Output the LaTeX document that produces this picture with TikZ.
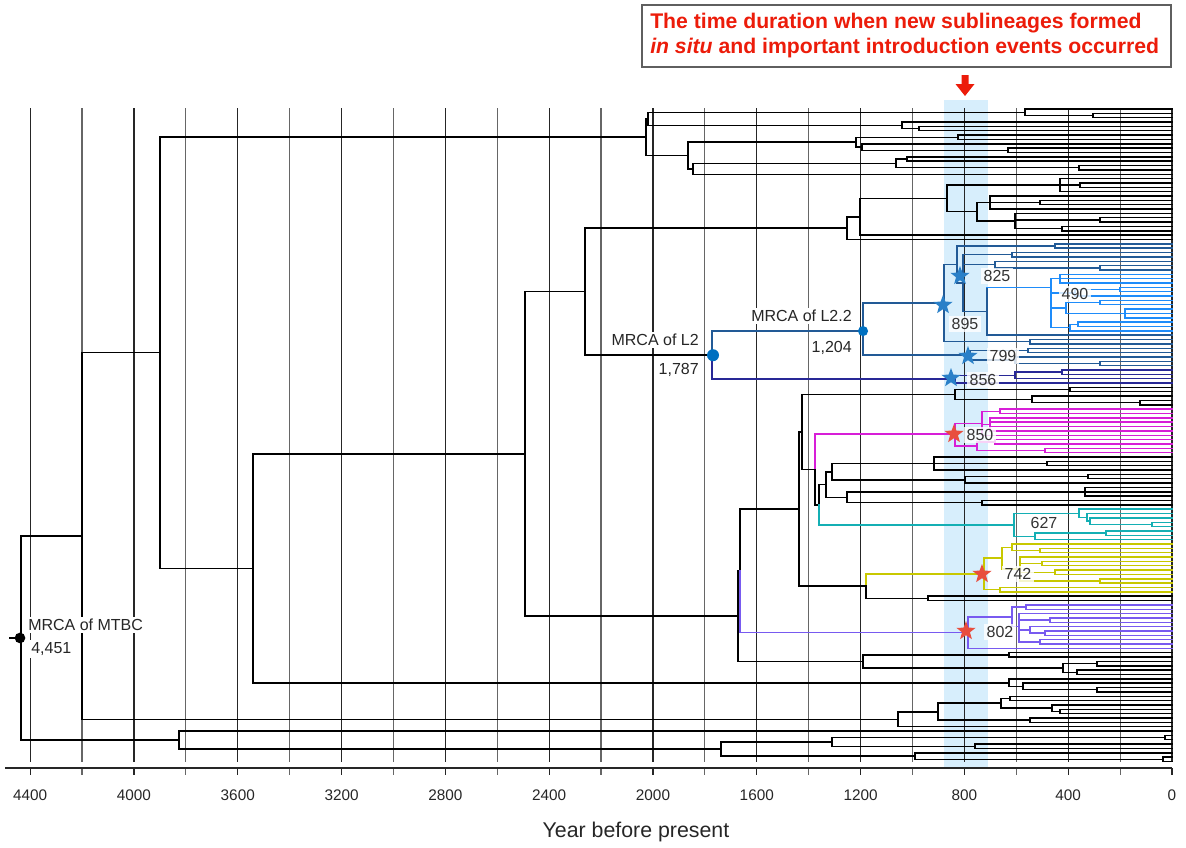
\documentclass[tikz,border=0pt]{standalone}
\usepackage{fontspec}
\setmainfont{Liberation Sans}
\usetikzlibrary{shapes.geometric}
\definecolor{stb}{RGB}{34,90,150}
\definecolor{lbl}{RGB}{30,140,250}
\definecolor{ind}{RGB}{40,40,150}
\definecolor{mag}{RGB}{215,30,215}
\definecolor{cya}{RGB}{20,175,180}
\definecolor{yel}{RGB}{200,200,0}
\definecolor{pur}{RGB}{120,90,240}
\definecolor{bandc}{RGB}{215,238,252}
\definecolor{starb}{RGB}{42,128,200}
\definecolor{starr}{RGB}{232,78,62}
\definecolor{dotb}{RGB}{0,112,192}
\definecolor{redt}{RGB}{236,28,10}
\definecolor{boxg}{RGB}{95,95,95}
\newcommand\ky[1]{(109+4.35*(#1))}
\def\TIP{1172}
\newcommand\Nd[3][]{\foreach \kk/\xx [count=\ii, remember=\kk as \pk] in {#3}{%
  \draw[tr,#1] (#2,{\ky{\kk}}) -- (\xx,{\ky{\kk}});
  \ifnum\ii>1 \draw[tr,#1] (#2,{\ky{\pk}}) -- (#2,{\ky{\kk}});\fi}}
\tikzset{
  tr/.style={line width=1.1pt, line cap=rect},
  gmaj/.style={black!85, line width=0.9pt},
  gmin/.style={black!60, line width=0.9pt},
  bstar/.style={star, star points=5, star point ratio=2.4, fill=starb, draw=none, minimum size=15pt, inner sep=0pt},
  rstar/.style={bstar, fill=starr},
  slab/.style={fill=white, fill opacity=0.8, text opacity=1, text=black!80, inner sep=2pt, font=\fontsize{12}{14}\selectfont},
  mlab/.style={fill=white, inner sep=1.5pt, text=black!85, font=\fontsize{12}{14}\selectfont},
  axl/.style={font=\fontsize{11.5}{13}\selectfont, text=black!85},
}
\begin{document}
\begin{tikzpicture}[x=0.75pt,y=-0.75pt]
\useasboundingbox (0,0) rectangle (1186,847);
% highlight band
\fill[bandc] (944,100) rectangle (988,768);
% grid
\foreach \yr in {0,400,...,4400}{
  \pgfmathsetmacro\gx{1172-0.2595*\yr}
  \draw[gmaj] (\gx,108) -- (\gx,762);
  \draw[gmaj] (\gx,768) -- (\gx,775);
  \node[axl] (ax\yr) at (\gx,795) {\yr};
}
\foreach \yr in {200,600,...,4200}{
  \pgfmathsetmacro\gx{1172-0.2595*\yr}
  \draw[gmin] (\gx,108) -- (\gx,762);
  \draw[gmin] (\gx,768) -- (\gx,775);
}
\draw[black!85, line width=0.9pt] (5,768) -- (1172,768);
\node[font=\fontsize{16}{18}\selectfont, text=black!85] (xt) at (636,832) {Year before present};
% title box
\draw[boxg, line width=2.2pt, fill=white] (642,5) rectangle (1171,67);
\node[anchor=west, text=redt, font=\bfseries\fontsize{15.9}{18}\selectfont, inner sep=0pt] (t1) at (650,23) {The time duration when new sublineages formed};
\node[anchor=west, text=redt, font=\bfseries\fontsize{15.9}{18}\selectfont, inner sep=0pt] (t2) at (650,48) {\textit{in situ} and important introduction events occurred};
\fill[redt] (961.5,75) -- (968.5,75) -- (968.5,84) -- (974.5,84) -- (965,96) -- (955.5,84) -- (961.5,84) -- cycle;
% ---------- backbone
\draw[tr] (10,{\ky{121.6}}) -- (21,{\ky{121.6}});
\Nd{21}{98.15/82, 145.06/179}
\Nd{82}{56/160, 140.3/898}
\Nd{160}{6.47/646, 105.6/253}
\Nd{253}{79.3/525, 131.9/1009}
\Nd{525}{42/585, 116.6/738}
\Nd{585}{27.4/847, 56.6/712}
\Nd{738}{106.2/740, 127/863}
\draw[tr] (740,{\ky{106.2}}) -- (740,{\ky{92}}) -- (799,{\ky{92}});
\draw[tr,pur] (740,{\ky{106.2}}) -- (740,{\ky{120.4}}) -- (968,{\ky{120.4}});
\Nd{799}{74.25/802, 109.7/866}
\Nd{802}{65.6/955, 82.9/815}
\draw[tr,mag] (815,{\ky{82.9}}) -- (815,{\ky{74.75}}) -- (955,{\ky{74.75}});
\draw[tr] (815,{\ky{82.9}}) -- (815,{\ky{91}}) -- (819,{\ky{91}});
\draw[tr] (819,{\ky{91}}) -- (819,{\ky{86.3}}) -- (826,{\ky{86.3}});
\draw[tr,cya] (819,{\ky{91}}) -- (819,{\ky{95.6}}) -- (1014,{\ky{95.6}});
\Nd{826}{83.4/832, 89.25/847}
\Nd{832}{81.5/934, 85.25/965}
\Nd{934}{80/\TIP, 81.5/1047, 83/\TIP}
\Nd{1047}{81/\TIP, 82/\TIP}
\Nd{965}{84.5/1088, 86/\TIP}
\Nd{1088}{84/\TIP, 85/\TIP}
\Nd{847}{88/1085, 90.5/982}
\Nd{1085}{87/\TIP, 88/\TIP, 89/\TIP}
\Nd{982}{90/\TIP, 91/\TIP}
\draw[tr,yel] (866,{\ky{109.7}}) -- (866,{\ky{106.9}}) -- (984,{\ky{106.9}});
\draw[tr] (866,{\ky{109.7}}) -- (866,{\ky{112.5}}) -- (928,{\ky{112.5}});
\Nd{928}{112/\TIP, 113/\TIP}
% R5
\Nd{955}{64.5/1070, 66.75/1032}
\Nd{1070}{64/\TIP, 65/\TIP}
\Nd{1032}{66/\TIP, 67.5/1140}
\Nd{1140}{67/\TIP, 68/\TIP}
% magenta
\Nd[mag]{955}{72.25/982, 77.5/977}
\Nd[mag]{982}{69.5/1000, 72.5/990, 75/\TIP}
\Nd[mag]{1000}{69/\TIP, 70/\TIP}
\Nd[mag]{990}{71/\TIP, 72/\TIP, 73/\TIP, 74/\TIP}
\Nd[mag]{977}{76.5/995, 78.5/1045}
\Nd[mag]{995}{76/\TIP, 77/\TIP}
\Nd[mag]{1045}{78/\TIP, 79/\TIP}
% cyan
\Nd[cya]{1014}{92.95/1079, 98.25/1035}
\Nd[cya]{1079}{92/\TIP, 93.9/1087}
\Nd[cya]{1087}{93/\TIP, 94.75/1090}
\Nd[cya]{1090}{94/\TIP, 95.5/1152}
\Nd[cya]{1152}{95/\TIP, 96/\TIP}
\Nd[cya]{1035}{97.5/1106, 99/\TIP}
\Nd[cya]{1106}{97/\TIP, 98/\TIP}
% yellow
\Nd[yel]{984}{103.25/1002, 110.5/1000}
\Nd[yel]{1000}{110/\TIP, 111/\TIP}
\Nd[yel]{1002}{100.75/1012, 105.75/1020}
\Nd[yel]{1012}{100/\TIP, 101.5/1040}
\Nd[yel]{1040}{101/\TIP, 102/\TIP}
\Nd[yel]{1020}{103/\TIP, 104.5/1042, 106.5/1055, 108.5/1100}
\Nd[yel]{1042}{104/\TIP, 105/\TIP}
\Nd[yel]{1055}{106/\TIP, 107/\TIP}
\Nd[yel]{1100}{108/\TIP, 109/\TIP}
% purple
\Nd[pur]{968}{116.75/1012, 124/\TIP}
\Nd[pur]{1012}{114.5/1026, 119/1019}
\Nd[pur]{1026}{114/\TIP, 115/\TIP}
\Nd[pur]{1019}{116/\TIP, 117.5/1050, 119.75/1030, 122.5/1040}
\Nd[pur]{1050}{117/\TIP, 118/\TIP}
\Nd[pur]{1030}{119/\TIP, 120.5/1045}
\Nd[pur]{1045}{120/\TIP, 121/\TIP}
\Nd[pur]{1040}{122/\TIP, 123/\TIP}
% black after purple
\Nd{863}{125.5/1009, 128.5/1063}
\Nd{1009}{125/\TIP, 126/\TIP}
\Nd{1063}{127.5/1097, 129.5/1077}
\Nd{1097}{127/\TIP, 128/\TIP}
\Nd{1077}{129/\TIP, 130/\TIP}
\Nd{1009}{131/\TIP, 132.75/1023}
\Nd{1023}{132/\TIP, 133.5/1097}
\Nd{1097}{133/\TIP, 134/\TIP}
% 898 group
\Nd{898}{138.6/938, 142/\TIP}
\Nd{938}{136.6/1001, 140.5/1030}
\Nd{1001}{135.5/1010, 137.75/1052}
\Nd{1010}{135/\TIP, 136/\TIP}
\Nd{1052}{137/\TIP, 138.5/1060}
\Nd{1060}{138/\TIP, 139/\TIP}
\Nd{1030}{140/\TIP, 141/\TIP}
% bottom group
\Nd{179}{143/\TIP, 147.1/721}
\Nd{721}{145.5/832, 148.75/915}
\Nd{832}{144.5/1165, 146.5/975}
\Nd{1165}{144/\TIP, 145/\TIP}
\Nd{975}{146/\TIP, 147/\TIP}
\Nd{915}{148/\TIP, 149.5/1163}
\Nd{1163}{149/\TIP, 150/\TIP}
% top clade
\Nd{646}{2.25/648, 10.69/688}
\Nd{648}{0.75/1025, 3.75/902}
\Nd{1025}{0/\TIP, 1.5/1093}
\Nd{1093}{1/\TIP, 2/\TIP}
\Nd{902}{3/\TIP, 4.5/919}
\Nd{919}{4/\TIP, 5/\TIP}
\Nd{688}{7.625/856, 13.75/693}
\Nd{856}{6.5/958, 8.75/862}
\Nd{958}{6/\TIP, 7/\TIP}
\Nd{862}{8/\TIP, 9.5/1008}
\Nd{1008}{9/\TIP, 10/\TIP}
\Nd{693}{12.5/896, 15/\TIP}
\Nd{896}{11.5/907, 13.5/1079}
\Nd{907}{11/\TIP, 12/\TIP}
\Nd{1079}{13/\TIP, 14/\TIP}
% second clade
\Nd{847}{24.8/860, 30/\TIP}
\Nd{860}{20.55/947, 29/\TIP}
\Nd{947}{17.5/1060, 23.6/977}
\Nd{1060}{16/\TIP, 17.5/1080, 19/\TIP}
\Nd{1080}{17/\TIP, 18/\TIP}
\Nd{977}{21.5/990, 25.75/1015}
\Nd{990}{20/\TIP, 21.5/1040, 23/\TIP}
\Nd{1040}{21/\TIP, 22/\TIP}
\Nd{1015}{24/\TIP, 25.5/1100, 27.5/1062}
\Nd{1100}{25/\TIP, 26/\TIP}
\Nd{1062}{27/\TIP, 28/\TIP}
% L2
\draw[tr,stb] (712,{\ky{56.6}}) -- (712,{\ky{51.05}}) -- (863,{\ky{51.05}});
\draw[tr,ind] (712,{\ky{56.6}}) -- (712,{\ky{62.1}}) -- (955,{\ky{62.1}});
\Nd[ind]{955}{61.25/1015, 63/\TIP}
\Nd[ind]{1015}{60.5/1062, 62/\TIP}
\Nd[ind]{1062}{60/\TIP, 61/\TIP}
% L2.2
\Nd[stb]{863}{44.6/944, 56.6/970}
\Nd[stb]{944}{35.75/957, 53.5/1030}
\Nd[stb]{1030}{53/\TIP, 54/\TIP}
\Nd[stb]{957}{31.5/1055, 40/963}
\Nd[stb]{1055}{31/\TIP, 32/\TIP}
\Nd[stb]{963}{33.5/1012, 35.75/995, 46.5/987}
\Nd[stb]{1012}{33/\TIP, 34/\TIP}
\Nd[stb]{995}{35/\TIP, 36.5/1100}
\Nd[stb]{1100}{36/\TIP, 37/\TIP}
\draw[tr,stb] (987,{\ky{41}}) -- (987,{\ky{52}}) -- (\TIP,{\ky{52}});
\draw[tr,lbl] (987,{\ky{41}}) -- (1051,{\ky{41}});
\Nd[lbl]{1051}{39/1060, 42.25/1075, 45.75/1066, 50.25/1070}
\Nd[lbl]{1060}{38/\TIP, 39/\TIP, 40/\TIP}
\Nd[lbl]{1075}{41.5/1120, 43/\TIP}
\Nd[lbl]{1120}{41/\TIP, 42/\TIP}
\Nd[lbl]{1066}{44.5/1100, 47/1125}
\Nd[lbl]{1100}{44/\TIP, 45/\TIP}
\Nd[lbl]{1125}{46/\TIP, 47/\TIP, 48/\TIP}
\Nd[lbl]{1070}{49.5/1078, 51/\TIP}
\Nd[lbl]{1078}{49/\TIP, 50/\TIP}
\Nd[stb]{970}{55.5/1028, 57.75/1015}
\Nd[stb]{1028}{55/\TIP, 56/\TIP}
\Nd[stb]{1015}{57/\TIP, 58.5/1100}
\Nd[stb]{1100}{58/\TIP, 59/\TIP}
% ---------- MRCA dots and labels
\node[mlab, anchor=west] (mtbc) at (26,625) {MRCA of MTBC};
\node[mlab, anchor=west] (mtbcage) at (29,649) {4,451};
\fill[black] (20,{\ky{121.6}}) circle (4pt);
\node[mlab, anchor=east] (l2) at (701,340) {MRCA of L2};
\node[mlab, anchor=east] (l2age) at (701,370) {1,787};
\fill[dotb] (713,{\ky{56.6}}) circle (4.5pt);
\node[mlab, anchor=east] (l22) at (854,316) {MRCA of L2.2};
\node[mlab, anchor=east] (l22age) at (854,348) {1,204};
\fill[dotb] (863,{\ky{51.05}}) circle (3.8pt);
% ---------- stars and labels
\node[bstar] (s825) at (960,276) {};
\node[bstar] (s895) at (943,305) {};
\node[bstar] (s799) at (968,356) {};
\node[bstar] (s856) at (951,378) {};
\node[rstar] (s850) at (954,434) {};
\node[rstar] (s742) at (982,574) {};
\node[rstar] (s802) at (966,631) {};
\node[slab] (l825) at (997,276) {825};
\node[slab] (l895) at (965,324) {895};
\node[slab] (l799) at (1003,356) {799};
\node[slab] (l856) at (983,380) {856};
\node[slab] (l850) at (980,435) {850};
\node[slab] (l627) at (1044,523) {627};
\node[slab] (l742) at (1018,574) {742};
\node[slab] (l802) at (1000,632) {802};
\node[slab] (l490) at (1075,294) {490};
\end{tikzpicture}
\end{document}
